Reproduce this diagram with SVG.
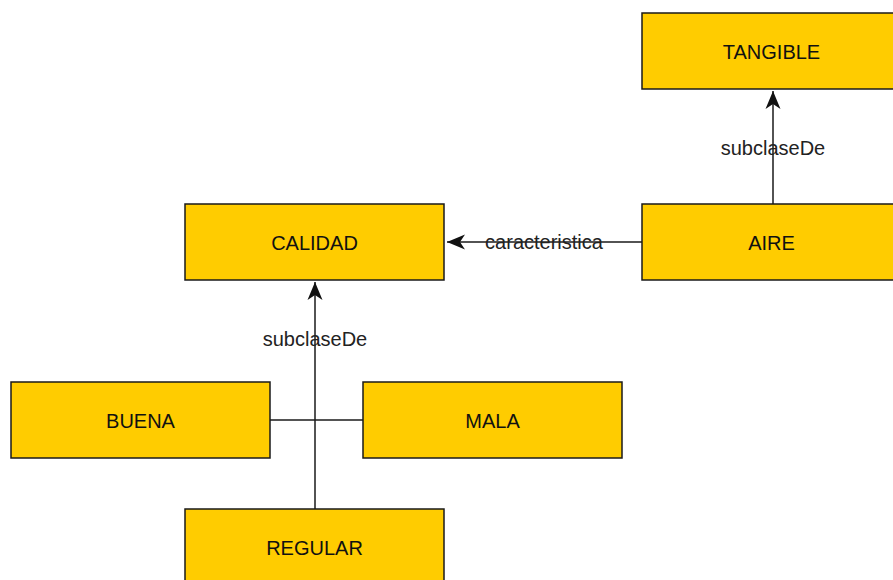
<svg xmlns="http://www.w3.org/2000/svg" width="893" height="580" viewBox="0 0 893 580">
  <style>
    .box { fill: #ffcc00; stroke: #1a1a1a; stroke-width: 1.5; }
    .lbl { font-family: "Liberation Sans", Arial, sans-serif; font-size: 20px; fill: #111; text-anchor: middle; }
    .edge { fill: none; stroke: #1a1a1a; stroke-width: 1.5; }
    .elbl { font-family: "Liberation Sans", Arial, sans-serif; font-size: 20px; fill: #222; text-anchor: middle; }
  </style>
  <defs>
    <marker id="classic" viewBox="-18 -8 20 16" markerWidth="20" markerHeight="16" refX="0" refY="0" orient="auto" markerUnits="userSpaceOnUse">
      <path d="M0,0 L-18,-7.5 L-13,0 L-18,7.5 Z" fill="#111"/>
    </marker>
  </defs>
  <rect width="893" height="580" fill="#ffffff"/>

  <g id="connectors">
    <line class="edge" x1="773" y1="204" x2="773" y2="91" marker-end="url(#classic)"/>
    <text class="elbl" x="773" y="155">subclaseDe</text>
    <line class="edge" x1="642" y1="242" x2="447" y2="242" marker-end="url(#classic)"/>
    <text class="elbl" x="544" y="249">caracteristica</text>
    <line class="edge" x1="315" y1="509" x2="315" y2="282" marker-end="url(#classic)"/>
    <text class="elbl" x="315" y="346">subclaseDe</text>
    <line class="edge" x1="270" y1="420" x2="363" y2="420"/>
  </g>

  <g id="node-tangible">
    <rect class="box" x="642" y="13" width="259" height="76"/>
    <text class="lbl" x="771.5" y="58.5">TANGIBLE</text>
  </g>
  <g id="node-calidad">
    <rect class="box" x="185" y="204" width="259" height="76"/>
    <text class="lbl" x="314.5" y="249.5">CALIDAD</text>
  </g>
  <g id="node-aire">
    <rect class="box" x="642" y="204" width="259" height="76"/>
    <text class="lbl" x="771.5" y="249.5">AIRE</text>
  </g>
  <g id="node-buena">
    <rect class="box" x="11" y="382" width="259" height="76"/>
    <text class="lbl" x="140.5" y="427.5">BUENA</text>
  </g>
  <g id="node-mala">
    <rect class="box" x="363" y="382" width="259" height="76"/>
    <text class="lbl" x="492.5" y="427.5">MALA</text>
  </g>
  <g id="node-regular">
    <rect class="box" x="185" y="509" width="259" height="76"/>
    <text class="lbl" x="314.5" y="554.5">REGULAR</text>
  </g>
</svg>
